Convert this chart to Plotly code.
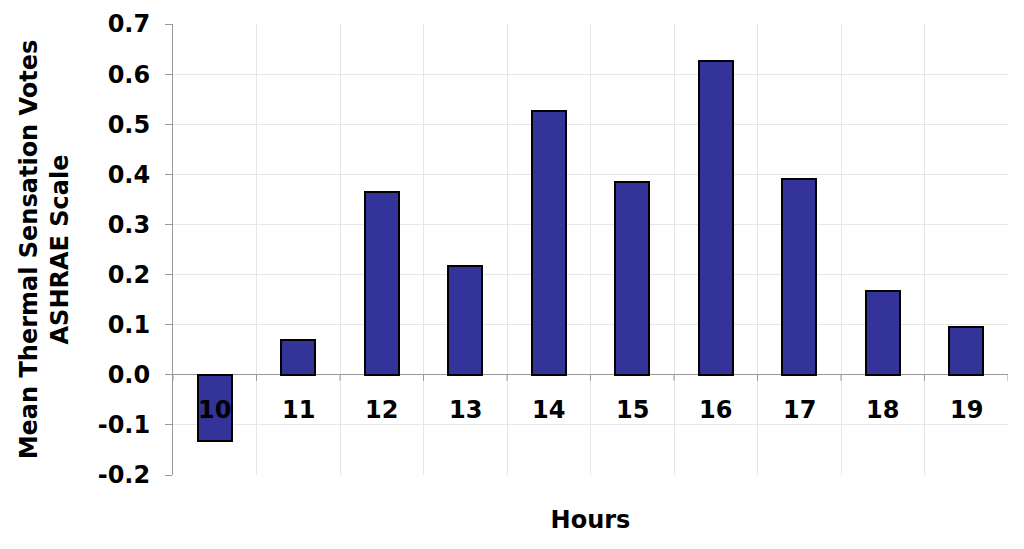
import plotly.graph_objects as go

hours = [10, 11, 12, 13, 14, 15, 16, 17, 18, 19]
votes = [-0.132, 0.070, 0.365, 0.218, 0.527, 0.385, 0.627, 0.390, 0.168, 0.096]
y_ticks = [-0.2, -0.1, 0.0, 0.1, 0.2, 0.3, 0.4, 0.5, 0.6, 0.7]

font_main = dict(family="DejaVu Sans", size=24, color="black")

fig = go.Figure()
fig.add_trace(go.Bar(
    x=hours,
    y=votes,
    width=0.41,
    marker=dict(color="#333399", line=dict(color="black", width=2)),
    showlegend=False,
))

# category labels sit just under the zero line
for h in hours:
    fig.add_annotation(x=h, y=0, yref="y", xref="x", text=f"<b>{h}</b>",
                       showarrow=False, yanchor="middle", yshift=-35,
                       font=font_main)

# small ticks on the zero line at category boundaries
for b in [h - 0.5 for h in hours] + [hours[-1] + 0.5]:
    fig.add_shape(type="line", x0=b, x1=b, y0=0, y1=-0.012, xref="x", yref="y",
                  line=dict(color="#999999", width=1))

fig.update_layout(
    width=1008, height=533,
    plot_bgcolor="white", paper_bgcolor="white",
    margin=dict(l=165, r=8, t=16, b=66),
    font=font_main,
    bargap=0,
)
fig.update_xaxes(
    range=[9.5, 19.5], automargin=False,
    tickvals=hours, showticklabels=False, ticks="",
    showgrid=False, zeroline=False, showline=False,
    minor=dict(tick0=0.5, dtick=1, showgrid=True, gridcolor="#e6e6e6", gridwidth=1),
    title=dict(text="<b>Hours</b>", font=font_main, standoff=36),
)
fig.update_yaxes(
    range=[-0.2, 0.7], automargin=False,
    tickvals=y_ticks, ticktext=[f"<b>{v:.1f}</b>" for v in y_ticks],
    ticks="outside", ticklen=7, tickcolor="#999999", ticklabelstandoff=10,
    showline=True, linecolor="#999999", linewidth=1,
    showgrid=True, gridcolor="#e6e6e6", gridwidth=1,
    zeroline=True, zerolinecolor="#999999", zerolinewidth=1,
    title=dict(text="<b>Mean Thermal Sensation Votes<br>ASHRAE Scale</b>", font=font_main, standoff=22),
)

fig.write_html("out.html")
